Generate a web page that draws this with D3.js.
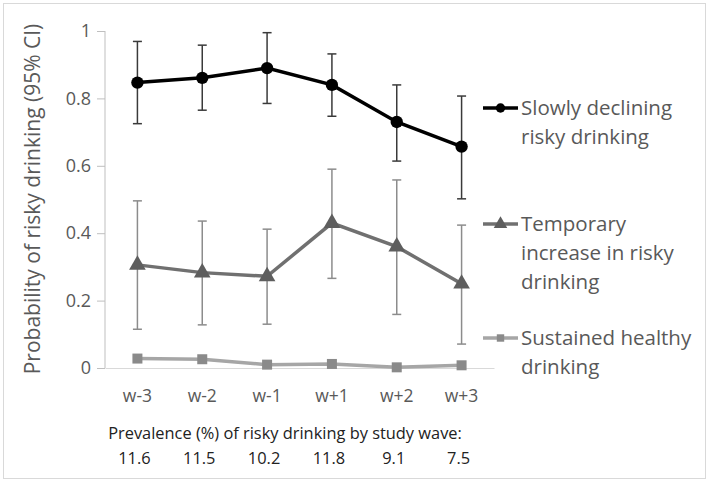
<!DOCTYPE html>
<html><head><meta charset="utf-8">
<script src="https://cdn.jsdelivr.net/npm/d3@7"></script>
<style>body{margin:0;background:#fff;}svg{display:block;font-family:"Open Sans",sans-serif;}</style>
</head><body><svg id="c" width="709" height="482"></svg>
<script>
const waves = ["w-3","w-2","w-1","w+1","w+2","w+3"];
const prevalence = ["11.6","11.5","10.2","11.8","9.1","7.5"];
const yTicks = [0,0.2,0.4,0.6,0.8,1];
const declining = [0.847,0.861,0.890,0.840,0.730,0.657];
const decliningLo = [0.725,0.765,0.785,0.747,0.614,0.502];
const decliningHi = [0.969,0.958,0.995,0.932,0.840,0.807];
const temporary = [0.306,0.283,0.272,0.430,0.360,0.250];
const temporaryLo = [0.115,0.128,0.130,0.266,0.159,0.071];
const temporaryHi = [0.496,0.436,0.412,0.590,0.558,0.424];
const healthy = [0.028,0.026,0.010,0.012,0.002,0.008];
const seriesNames = [["Slowly declining","risky drinking"],["Temporary","increase in risky","drinking"],["Sustained healthy","drinking"]];

const svg = d3.select("#c");
svg.append("rect").attr("x",3.5).attr("y",3.5).attr("width",702).attr("height",475)
  .attr("fill","#fff").attr("stroke","#d9d9d9");

const x = d3.scaleBand().domain(waves).range([105,494]);
const y = d3.scaleLinear().domain([0,1]).range([368,31]);
const cx = d => x(d)+x.bandwidth()/2;

// y axis
const ya = svg.append("g").attr("transform","translate(105,0)")
  .call(d3.axisLeft(y).tickValues(yTicks).tickSize(8).tickPadding(6).tickFormat(d=>d3.format("")(d)));
ya.select(".domain").attr("stroke","#bfbfbf").attr("d","M0,31V368");
ya.selectAll(".tick line").attr("stroke","#bfbfbf");
ya.selectAll(".tick text").attr("fill","#595959").attr("font-size",18).attr("font-family","Open Sans, sans-serif");

// x axis line
const xa = svg.append("g").attr("transform","translate(0,368)")
  .call(d3.axisBottom(x).tickSize(0).tickPadding(22));
xa.select(".domain").attr("stroke","#d9d9d9");
xa.selectAll(".tick text").attr("fill","#595959").attr("font-size",17.5).attr("font-family","Open Sans, sans-serif");

// y title
svg.append("text").attr("transform","translate(40,199) rotate(-90)").attr("text-anchor","middle")
  .attr("fill","#595959").attr("font-size",21).text("Probability of risky drinking (95% CI)");

// prevalence
svg.append("text").attr("x",285).attr("y",439).attr("text-anchor","middle").attr("fill","#222")
  .attr("font-size",16.4).text("Prevalence (%) of risky drinking by study wave:");
svg.append("g").selectAll("text").data(prevalence).join("text")
  .attr("x",(d,i)=>cx(waves[i])-3).attr("y",464).attr("text-anchor","middle").attr("fill","#222")
  .attr("font-size",16.4).text(d=>d);

function errBars(vals, lo, hi, color, w){
  const g = svg.append("g").attr("stroke",color).attr("stroke-width",w).attr("fill","none");
  waves.forEach((wv,i)=>{
    const px = cx(wv);
    g.append("line").attr("x1",px).attr("x2",px).attr("y1",y(lo[i])).attr("y2",y(hi[i]));
    g.append("line").attr("x1",px-4.5).attr("x2",px+4.5).attr("y1",y(lo[i])).attr("y2",y(lo[i]));
    g.append("line").attr("x1",px-4.5).attr("x2",px+4.5).attr("y1",y(hi[i])).attr("y2",y(hi[i]));
  });
}
errBars(temporary, temporaryLo, temporaryHi, "#8c8c8c", 1.5);
errBars(declining, decliningLo, decliningHi, "#3a3a3a", 1.5);

const line = d3.line().x((d,i)=>cx(waves[i])).y(d=>y(d));
function series(vals, lineColor, markColor, w, shape, size){
  svg.append("path").datum(vals).attr("d",line).attr("fill","none").attr("stroke",lineColor).attr("stroke-width",w);
  svg.append("g").selectAll("path").data(vals).join("path")
    .attr("transform",(d,i)=>`translate(${cx(waves[i])},${y(d)})`)
    .attr("d",d3.symbol().type(shape).size(size)).attr("fill",markColor);
}
series(healthy, "#a6a6a6", "#8a8a8a", 3.5, d3.symbolSquare, 100);
series(temporary, "#707070", "#5e5e5e", 3.5, d3.symbolTriangle, 120);
series(declining, "#000", "#000", 3.5, d3.symbolCircle, 120);

// legend
const legend = [
  {y:108, names:seriesNames[0], lc:"#000", mc:"#000", shape:d3.symbolCircle, size:70},
  {y:224, names:seriesNames[1], lc:"#707070", mc:"#5e5e5e", shape:d3.symbolTriangle, size:80},
  {y:338, names:seriesNames[2], lc:"#a6a6a6", mc:"#8a8a8a", shape:d3.symbolSquare, size:55}
];
legend.forEach(l=>{
  svg.append("line").attr("x1",483).attr("x2",518).attr("y1",l.y).attr("y2",l.y).attr("stroke",l.lc).attr("stroke-width",3.5);
  svg.append("path").attr("transform",`translate(500.5,${l.y})`).attr("d",d3.symbol().type(l.shape).size(l.size)).attr("fill",l.mc);
  l.names.forEach((t,j)=>{
    svg.append("text").attr("x",521).attr("y",l.y+29*j).attr("dy","0.35em").attr("fill","#595959")
      .attr("font-size",20.5).text(t);
  });
});
</script></body></html>
